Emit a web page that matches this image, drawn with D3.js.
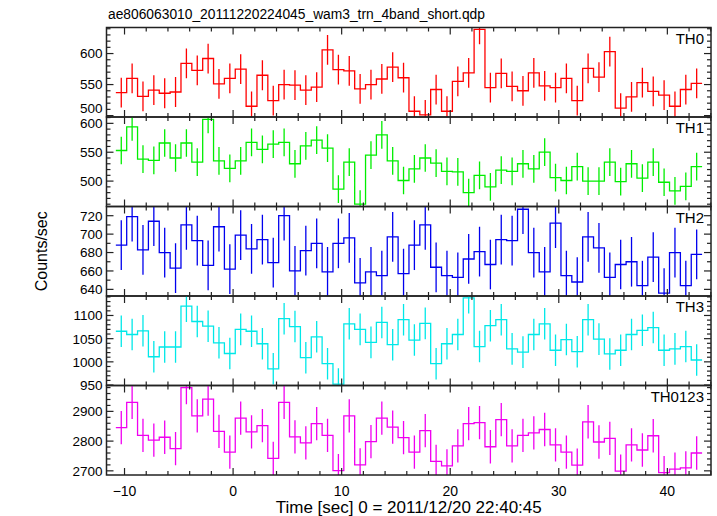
<!DOCTYPE html>
<html><head><meta charset="utf-8">
<script src="https://cdn.jsdelivr.net/npm/d3@7/dist/d3.min.js"></script>
<style>
body{margin:0;background:#fff}
svg{display:block}
text{font-family:"Liberation Sans",Arial,Helvetica,sans-serif;fill:#000}
</style>
</head><body>
<svg id="chart" width="717" height="516"></svg>
<script>
// ---- data ----
const times = [-10.3,-9.3,-8.3,-7.3,-6.3,-5.3,-4.3,-3.3,-2.3,-1.3,-0.3,0.7,1.7,2.7,3.7,4.7,5.7,6.7,7.7,8.7,9.7,10.7,11.7,12.7,13.7,14.7,15.7,16.7,17.7,18.7,19.7,20.7,21.7,22.7,23.7,24.7,25.7,26.7,27.7,28.7,29.7,30.7,31.7,32.7,33.7,34.7,35.7,36.7,37.7,38.7,39.7,40.7,41.7,42.7];
const th0 = [537,560,531,541,536,538,584,573,592,551,560,575,515,565,524,550,549,541,546,606,574,572,543,550,559,578,561,507,501,542,507,555,569,639,545,568,547,540,569,548,545,560,524,576,562,603,512,530,553,539,533,515,542,552];
const th1 = [553,594,538,536,566,540,566,533,607,535,522,535,567,555,564,567,530,561,571,557,486,533,460,545,580,535,501,521,540,531,517,516,480,510,490,519,517,530,521,550,506,501,525,500,500,533,499,530,505,533,498,483,491,525];
const th2 = [688,719,683,714,680,663,710,693,666,708,662,699,684,694,669,720,660,682,690,659,690,696,647,659,655,697,657,688,710,664,655,653,673,681,667,694,693,727,680,659,712,655,648,697,685,653,667,670,644,675,636,680,644,678];
const th3 = [1066,1059,1067,1011,1032,1032,1120,1087,1077,1041,1018,1070,1066,1039,985,1093,1076,1009,1054,996,952,1082,1070,1042,1085,1037,1091,1047,1083,996,1039,1059,1138,1033,1078,1091,1028,1021,1059,1082,1025,1048,1022,1091,1049,1017,1025,1059,1068,1074,1025,1028,1033,1004];
const th0123 = [2845,2930,2819,2803,2813,2775,2980,2885,2941,2833,2763,2877,2831,2852,2742,2930,2814,2794,2859,2819,2701,2885,2720,2798,2877,2847,2812,2763,2835,2732,2717,2784,2859,2862,2781,2872,2784,2819,2828,2839,2787,2763,2719,2865,2797,2809,2699,2787,2770,2818,2694,2706,2710,2760];
const panelNames = ["TH0","TH1","TH2","TH3","TH0123"];
const errors = [24, 24, 27, 34, 56];
const yDomains = [[497.7,642],[456,611],[632.8,730],[949,1142],[2686,2987]];
const yMajorTicks = [[500,550,600],[500,550,600],[640,660,680,700,720],[950,1000,1050,1100],[2700,2800,2900]];
const yMinorSteps = [10,10,10,10,20];
const xDomain = [-11.66, 44.02];
const xMajorTicks = [-10,0,10,20,30,40];
const xMinorStep = 2;
const binWidth = 1.0;
const titleText = "ae806063010_20111220224045_wam3_trn_4band_short.qdp";
const xLabelText = "Time [sec] 0 = 2011/12/20 22:40:45";
const yLabelText = "Counts/sec";

// ---- layout/style ----
const series = [th0, th1, th2, th3, th0123];
const colors = ["#ff0000","#00ee00","#0000ee","#00e8e8","#f000f0"];
const L = 106.5, R = 711, T = 27.5, PH = 89.5;
const majorLen = 7, minorLen = 4;
const axisColor = "#222";

const svg = d3.select("#chart");
const x = d3.scaleLinear().domain(xDomain).range([L, R]);

const xMinor = d3.range(Math.ceil(xDomain[0]/xMinorStep)*xMinorStep, xDomain[1], xMinorStep)
  .filter(v => !xMajorTicks.includes(v));

// y scales first, so tick labels can avoid touching the next panel's labels
const yScales = series.map((vals, p) => {
  const y0 = T + p*PH, y1 = y0 + PH;
  return d3.scaleLinear().domain(yDomains[p]).range([y1, y0]);
});
const labelPos = yMajorTicks.map((ticks, p) => ticks.map(v => yScales[p](v)));
labelPos.forEach((arr, p) => {
  if (p + 1 < labelPos.length) {
    const nextTop = Math.min(...labelPos[p+1]);
    arr.forEach((yy, i) => { if (nextTop - yy < 15) arr[i] = nextTop - 15; });
  }
});

series.forEach((vals, p) => {
  const y0 = T + p*PH, y1 = y0 + PH;
  const y = yScales[p];
  const g = svg.append("g");
  const clipId = "clip" + p;
  svg.append("clipPath").attr("id", clipId).append("rect")
    .attr("x", L).attr("y", y0).attr("width", R-L).attr("height", PH);
  const data = times.map((t,i) => ({t, v: vals[i]}));
  const pts = [];
  data.forEach(d => { pts.push([d.t - binWidth/2, d.v]); pts.push([d.t + binWidth/2, d.v]); });
  const line = d3.line().x(d => x(d[0])).y(d => y(d[1]));
  const pg = g.append("g").attr("clip-path", `url(#${clipId})`);
  pg.append("path").attr("d", line(pts)).attr("fill","none")
    .attr("stroke", colors[p]).attr("stroke-width", 1.3);
  pg.selectAll("line.err").data(data).join("line").attr("class","err")
    .attr("x1", d => x(d.t)).attr("x2", d => x(d.t))
    .attr("y1", d => y(d.v - errors[p])).attr("y2", d => y(d.v + errors[p]))
    .attr("stroke", colors[p]).attr("stroke-width", 1.3);

  const tg = g.append("g").attr("stroke", axisColor).attr("stroke-width", 1.2);
  const yMin = d3.range(Math.ceil(yDomains[p][0]/yMinorSteps[p])*yMinorSteps[p], yDomains[p][1], yMinorSteps[p])
    .filter(v => !yMajorTicks[p].includes(v));
  const yt = yMajorTicks[p].map(v => ({v, len: majorLen})).concat(yMin.map(v => ({v, len: minorLen})));
  yt.forEach(d => {
    const yy = y(d.v);
    tg.append("line").attr("x1", L).attr("x2", L + d.len).attr("y1", yy).attr("y2", yy);
    tg.append("line").attr("x1", R).attr("x2", R - d.len).attr("y1", yy).attr("y2", yy);
  });
  const xt = xMajorTicks.map(v => ({v, len: majorLen})).concat(xMinor.map(v => ({v, len: minorLen})));
  xt.forEach(d => {
    const xx = x(d.v);
    tg.append("line").attr("x1", xx).attr("x2", xx).attr("y1", y0).attr("y2", y0 + d.len);
    tg.append("line").attr("x1", xx).attr("x2", xx).attr("y1", y1).attr("y2", y1 - d.len);
  });
  g.append("rect").attr("x", L).attr("y", y0).attr("width", R-L).attr("height", PH)
    .attr("fill","none").attr("stroke", axisColor).attr("stroke-width", 1.5);
  g.selectAll("text.yl").data(yMajorTicks[p]).join("text").attr("class","yl")
    .attr("x", L - 4).attr("y", (d, i) => labelPos[p][i]).attr("dy","0.36em")
    .attr("text-anchor","end").attr("font-size", 13.5).text(d => d);
  g.append("text").attr("x", R - 7).attr("y", y0 + 16).attr("text-anchor","end")
    .attr("font-size", 15).text(panelNames[p]);

  if (p === series.length - 1) {
    g.selectAll("text.xl").data(xMajorTicks).join("text").attr("class","xl")
      .attr("x", d => x(d)).attr("y", y1 + 21).attr("text-anchor","middle")
      .attr("font-size", 14).text(d => d < 0 ? "\u2212" + Math.abs(d) : d);
  }
});

svg.append("text").attr("x", 108).attr("y", 19).attr("font-size", 13.8).text(titleText);
svg.append("text").attr("x", (L+R)/2).attr("y", 513).attr("text-anchor","middle")
  .attr("font-size", 16).attr("textLength", 266).attr("lengthAdjust","spacingAndGlyphs").text(xLabelText);
svg.append("text").attr("transform", `translate(47,${T + 2.5*PH}) rotate(-90)`)
  .attr("text-anchor","middle").attr("font-size", 16).text(yLabelText);
</script>
</body></html>
